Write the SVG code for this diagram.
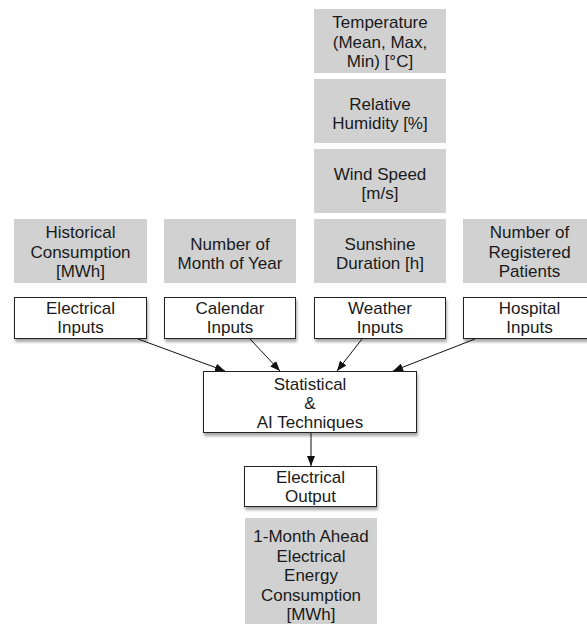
<svg xmlns="http://www.w3.org/2000/svg" width="587" height="624" viewBox="0 0 587 624">
<style>
.g{fill:#d1d1d1}
.w{fill:#fff;stroke:#222;stroke-width:1;filter:url(#sh)}
text{font-family:"Liberation Sans",Arial,sans-serif;font-size:17px;fill:#1a1a1a;text-anchor:middle}
.c{stroke:#111;stroke-width:1;fill:none;marker-end:url(#ah)}
</style>
<defs>
<filter id="sh" x="-10%" y="-20%" width="130%" height="160%">
<feDropShadow dx="1" dy="3" stdDeviation="1.5" flood-color="#000" flood-opacity="0.35"/>
</filter>
<marker id="ah" markerWidth="10" markerHeight="8" refX="10" refY="4" orient="auto" markerUnits="userSpaceOnUse">
<path d="M0,0 L10,4 L0,8 z" fill="#111"/>
</marker>
</defs>
<g id="temperature"><rect class="g" x="314" y="9" width="132" height="64"/><text x="380" y="28">Temperature</text><text x="380" y="47.5">(Mean, Max,</text><text x="380" y="67">Min) [°C]</text></g>
<g id="humidity"><rect class="g" x="314" y="79" width="132" height="64"/><text x="380" y="109.5">Relative</text><text x="380" y="128.5">Humidity [%]</text></g>
<g id="wind"><rect class="g" x="314" y="149" width="132" height="64"/><text x="380" y="179.5">Wind Speed</text><text x="380" y="198.5">[m/s]</text></g>
<g id="sunshine"><rect class="g" x="314" y="219" width="132" height="64"/><text x="380" y="249.5">Sunshine</text><text x="380" y="268.5">Duration [h]</text></g>
<g id="historical"><rect class="g" x="14" y="219" width="133" height="64"/><text x="80.5" y="238">Historical</text><text x="80.5" y="257.5">Consumption</text><text x="80.5" y="277">[MWh]</text></g>
<g id="month"><rect class="g" x="164" y="219" width="132" height="64"/><text x="230" y="249.5">Number of</text><text x="230" y="268.5">Month of Year</text></g>
<g id="patients"><rect class="g" x="463" y="219" width="133" height="64"/><text x="529.5" y="238">Number of</text><text x="529.5" y="257.5">Registered</text><text x="529.5" y="277">Patients</text></g>
<g id="electrical-inputs"><rect class="w" x="14.5" y="297.5" width="132" height="41"/><text x="80.5" y="313.5">Electrical</text><text x="80.5" y="332.5">Inputs</text></g>
<g id="calendar-inputs"><rect class="w" x="164.5" y="297.5" width="131" height="41"/><text x="230" y="313.5">Calendar</text><text x="230" y="332.5">Inputs</text></g>
<g id="weather-inputs"><rect class="w" x="314.5" y="297.5" width="131" height="41"/><text x="380" y="313.5">Weather</text><text x="380" y="332.5">Inputs</text></g>
<g id="hospital-inputs"><rect class="w" x="463.5" y="297.5" width="132" height="41"/><text x="529.5" y="313.5">Hospital</text><text x="529.5" y="332.5">Inputs</text></g>
<g id="techniques"><rect class="w" x="203.5" y="371.5" width="213" height="61"/><text x="310" y="389.5">Statistical</text><text x="310" y="409">&amp;</text><text x="310" y="428">AI Techniques</text></g>
<g id="electrical-output"><rect class="w" x="244.5" y="466.5" width="132" height="40"/><text x="310.5" y="483">Electrical</text><text x="310.5" y="502">Output</text></g>
<g id="forecast"><rect class="g" x="245" y="518" width="132" height="110"/><text x="311" y="542">1-Month Ahead</text><text x="311" y="561.5">Electrical</text><text x="311" y="581">Energy</text><text x="311" y="600.5">Consumption</text><text x="311" y="620">[MWh]</text></g>
<g id="connectors">
<line class="c" x1="138" y1="339" x2="225" y2="371"/>
<line class="c" x1="250" y1="339" x2="280" y2="371"/>
<line class="c" x1="362" y1="339" x2="337" y2="371"/>
<line class="c" x1="475" y1="339" x2="393" y2="371"/>
<line class="c" x1="311" y1="433" x2="311" y2="466"/>
</g>
</svg>
